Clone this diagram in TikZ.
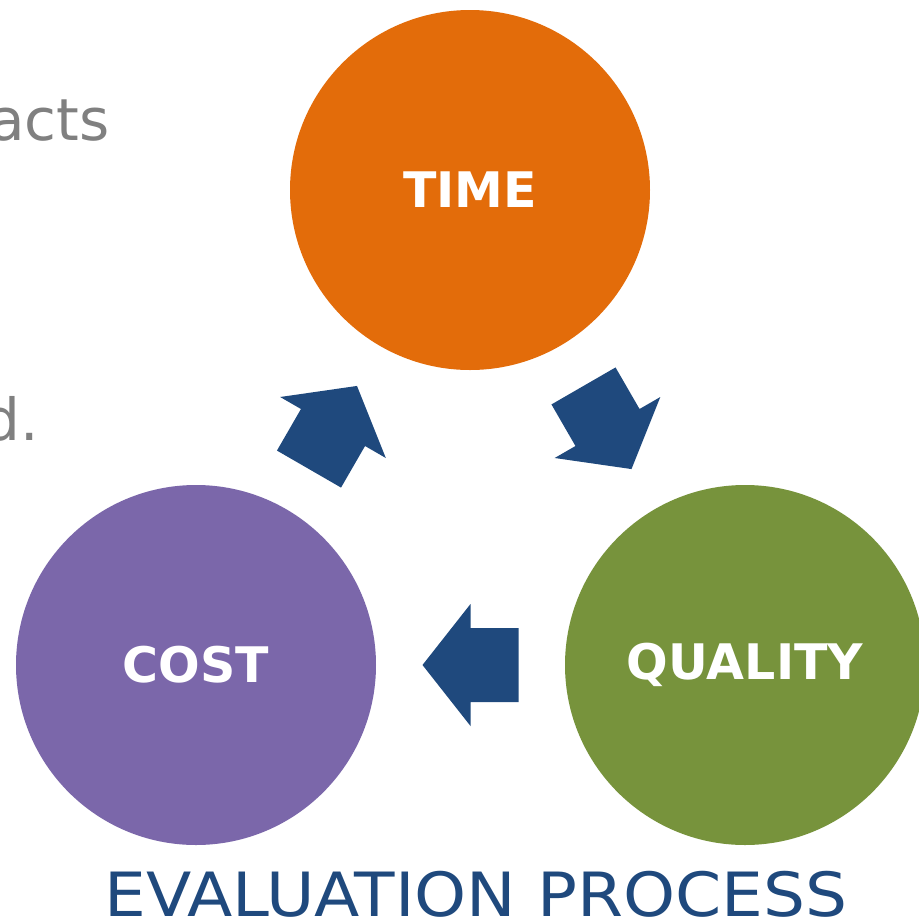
\documentclass[tikz,border=0pt]{standalone}
\usepackage{fontspec}
\setmainfont{DejaVu Sans}
\usetikzlibrary{calc}

\definecolor{timeorange}{HTML}{E36C0A}
\definecolor{costpurple}{HTML}{7B67AA}
\definecolor{qualgreen}{HTML}{77933C}
\definecolor{flowblue}{HTML}{1F497D}
\definecolor{textgray}{HTML}{808080}

\tikzset{
  flow/.pic={
    \fill[flowblue] (-48,-37) -- (0,-37) -- (0,-61) -- (48,0) -- (0,61) -- (0,37) -- (-48,37) -- cycle;
  }
}

\begin{document}
\begin{tikzpicture}[x=0.5pt,y=-0.5pt]
  \tikzstyle{ball}=[circle,minimum size=180pt,inner sep=0pt,text=white,
    font=\bfseries\fontsize{24.5pt}{28pt}\selectfont]
  \tikzstyle{behind}=[inner sep=0pt,anchor=base east,text=textgray,
    font=\fontsize{29pt}{34pt}\selectfont]
  \useasboundingbox (0,0) rectangle (919,922);
  \node[behind] (acts) at (110,140) {acts};
  \node[behind] (dotd) at (39,440) {d.};
  \node[ball,fill=timeorange] (time) at (470,190) {TIME};
  \node[ball,fill=costpurple] (cost) at (196,665) {COST};
  \node[ball,fill=qualgreen] (quality) at (745,665) {QUALITY};
  \pic[rotate=60] at ($(cost)!0.5!(time)$) {flow};
  \pic[rotate=-60] at ($(time)!0.5!(quality)$) {flow};
  \pic[rotate=180] at ($(quality)!0.5!(cost)$) {flow};
  \node[inner sep=0pt,anchor=base,xscale=1.085,text=flowblue,font=\fontsize{30.5pt}{36pt}\selectfont]
    (title) at (476,916) {EVALUATION PROCESS};
\end{tikzpicture}
\end{document}
